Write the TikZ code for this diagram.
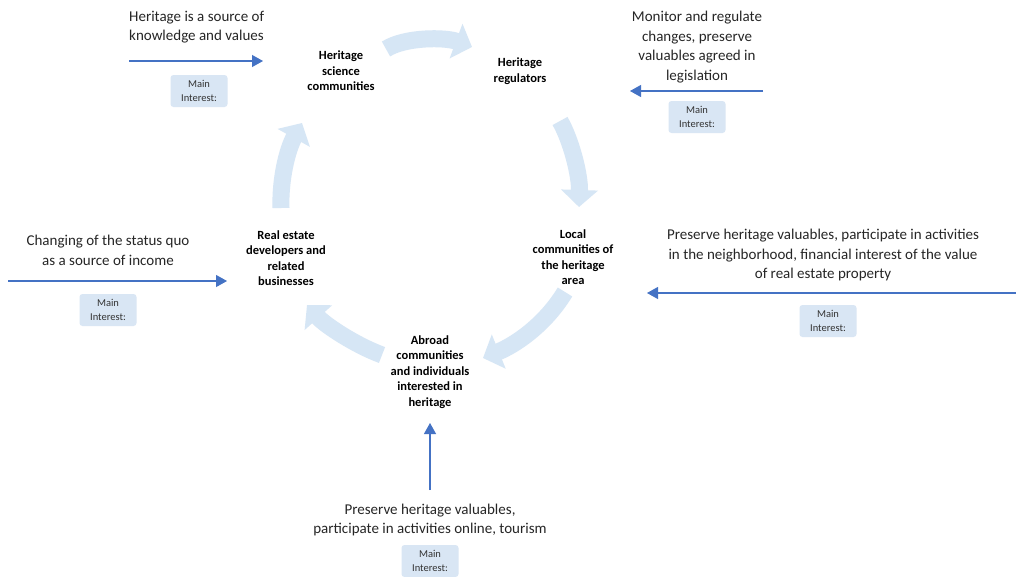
\documentclass[tikz,border=0pt]{standalone}
\usepackage{fontspec}
\setmainfont{Carlito}
\usetikzlibrary{arrows.meta}
\definecolor{cyclefill}{HTML}{D6E6F5}
\definecolor{boxfill}{HTML}{D9E6F4}
\definecolor{feedline}{HTML}{4472C4}
\tikzset{
  actor/.style={font=\fontsize{12.5}{15.5}\selectfont\bfseries, align=center, inner sep=0pt},
  interest/.style={font=\fontsize{15}{19.7}\selectfont, align=center, inner sep=0pt, text=black!85},
  mainbox/.style={fill=boxfill, rounded corners=3pt, minimum width=57pt, minimum height=32pt,
    font=\fontsize{10.5}{14}\selectfont, align=center, inner sep=0pt, text=black!80},
  flowarc/.style={draw=cyclefill, line width=17pt, -{Triangle[width=36pt,length=17pt]}},
  feedarrow/.style={draw=feedline, line width=1.1pt, -{Triangle[width=12pt,length=11pt]}},
}
\begin{document}
\begin{tikzpicture}[x=1pt,y=-1pt]
\useasboundingbox[fill=white] (0,0) rectangle (1016,576);
% stakeholders
\node[actor] (sci) at (341,71) {Heritage\\science\\communities};
\node[actor] (reg) at (520,71) {Heritage\\regulators};
\node[actor] (loc) at (573,257) {Local\\communities of\\the heritage\\area};
\node[actor] (abr) at (430,372) {Abroad\\communities\\and individuals\\interested in\\heritage};
\node[actor] (dev) at (286,258) {Real estate\\developers and\\related\\businesses};
% cycle between them
\coordinate (sci-out) at (386,49);  \coordinate (reg-in) at (472,47);
\coordinate (reg-out) at (560,121); \coordinate (loc-in) at (579,207);
\coordinate (loc-out) at (565,292); \coordinate (abr-in) at (483,358);
\coordinate (abr-out) at (382,355); \coordinate (dev-in) at (307,305);
\coordinate (dev-out) at (281,208); \coordinate (sci-in) at (302,123);
\draw[flowarc] (sci-out) .. controls (405,37) and (445,37) .. (reg-in);
\draw[flowarc] (reg-out) .. controls (571,140) and (580,175) .. (loc-in);
\draw[flowarc] (loc-out) .. controls (545,325) and (515,345) .. (abr-in);
\draw[flowarc] (abr-out) .. controls (355,345) and (325,325) .. (dev-in);
\draw[flowarc] (dev-out) .. controls (280,180) and (287,150) .. (sci-in);
% main interests
\node[interest, align=left, anchor=west] (tsci) at (129,27) {Heritage is a source of\\knowledge and values};
\node[interest] (treg) at (697,47) {Monitor and regulate\\changes, preserve\\valuables agreed in\\legislation};
\node[interest] (tdev) at (108,250) {Changing of the status quo\\as a source of income};
\node[interest] (tloc) at (823,255) {Preserve heritage valuables, participate in activities\\in the neighborhood, financial interest of the value\\of real estate property};
\node[interest] (tabr) at (430,520) {Preserve heritage valuables,\\participate in activities online, tourism};
\node[mainbox] (bsci) at (199,91) {Main\\Interest:};
\node[mainbox] (breg) at (697,117) {Main\\Interest:};
\node[mainbox] (bdev) at (108,310) {Main\\Interest:};
\node[mainbox] (bloc) at (828,321) {Main\\Interest:};
\node[mainbox] (babr) at (430,561) {Main\\Interest:};
% interest arrows
\coordinate (fsci) at (129,61);  \coordinate (fsci-end) at (263,61);
\coordinate (freg) at (763,91);  \coordinate (freg-end) at (630,91);
\coordinate (fdev) at (8,281);   \coordinate (fdev-end) at (227,281);
\coordinate (floc) at (1016,293); \coordinate (floc-end) at (647,293);
\coordinate (fabr) at (430,490); \coordinate (fabr-end) at (430,423);
\draw[feedarrow] (fsci) -- (fsci-end);
\draw[feedarrow] (freg) -- (freg-end);
\draw[feedarrow] (fdev) -- (fdev-end);
\draw[feedarrow] (floc) -- (floc-end);
\draw[feedarrow] (fabr) -- (fabr-end);
\end{tikzpicture}
\end{document}
